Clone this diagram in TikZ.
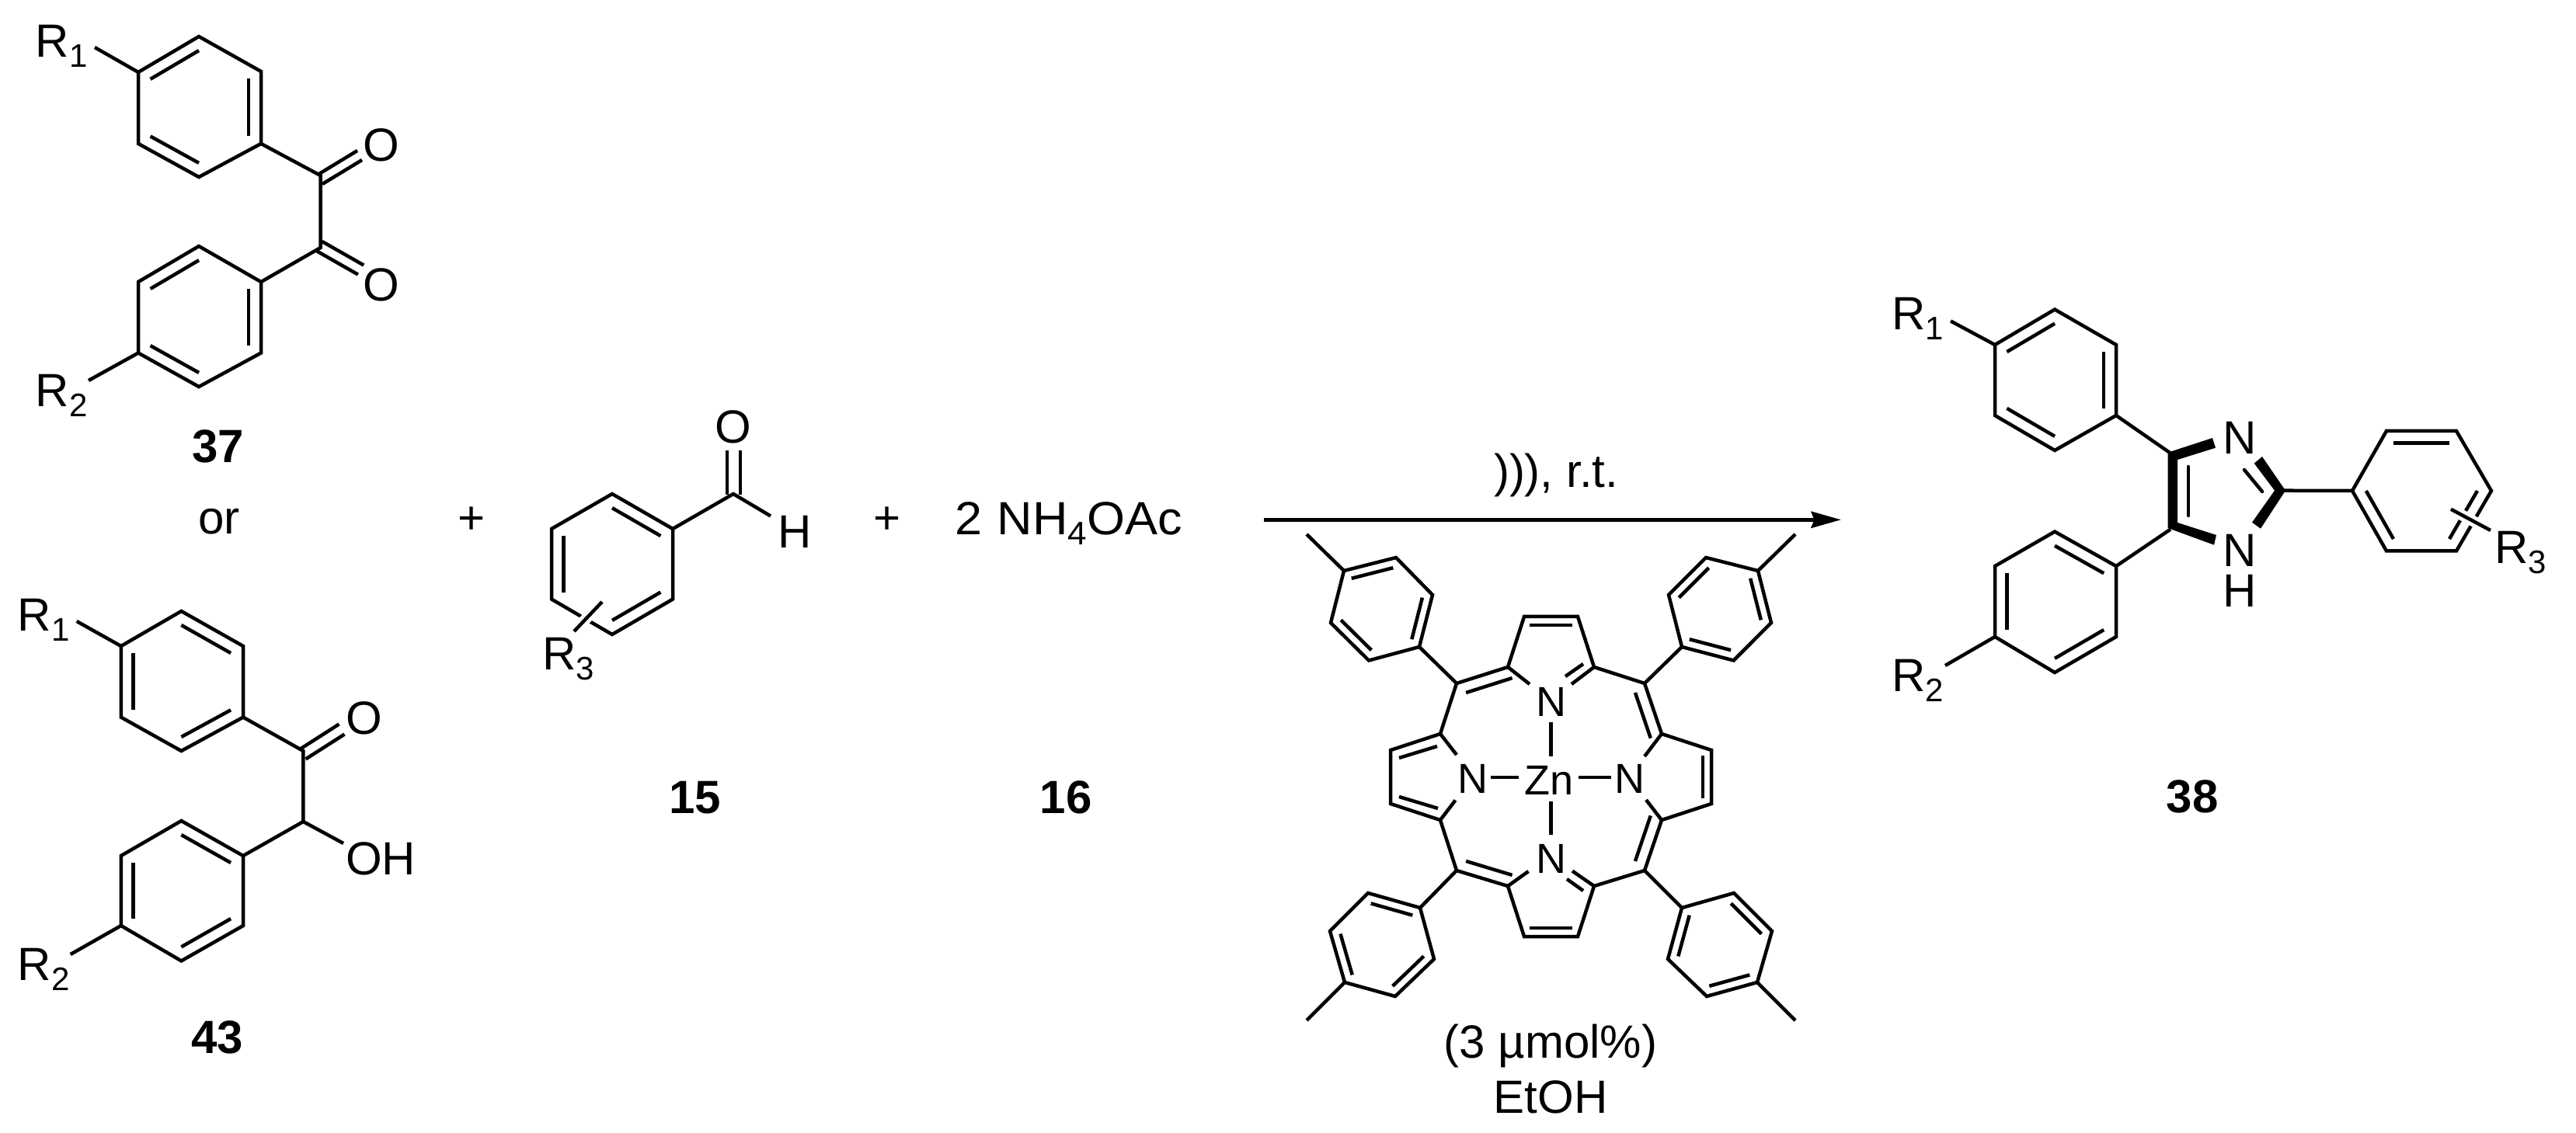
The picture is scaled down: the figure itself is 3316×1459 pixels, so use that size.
\documentclass[tikz,border=0pt]{standalone}
\usepackage{fontspec}
\usepackage{graphicx}
\setmainfont{Liberation Sans}
\usetikzlibrary{calc,arrows.meta}
\newcommand{\Sb}[1]{\raisebox{-6.5pt}{\fontsize{21}{21}\selectfont #1}}
\newcommand{\Rx}[1]{R\Sb{#1}}
% ring: prefix, six vertices in order; centre is prefix0
\newcommand{\Ring}[7]{%
  \coordinate (#1a) at (#2); \coordinate (#1b) at (#3); \coordinate (#1c) at (#4);
  \coordinate (#1d) at (#5); \coordinate (#1e) at (#6); \coordinate (#1f) at (#7);
  \coordinate (#10) at ($(#1a)!.5!(#1d)$);
  \draw[bond] (#1a)--(#1b)--(#1c)--(#1d)--(#1e)--(#1f)--cycle;}
\newcommand{\Db}[4][0.2]{\draw[bond] ($(#2)!#1!(#4)$) -- ($(#3)!#1!(#4)$);}
\newcommand{\DbS}[4]{%
  \draw[bond] ($(#1)+(#3,#4)$) -- ($(#2)+(#3,#4)$);
  \draw[bond] ($(#1)-(#3,#4)$) -- ($(#2)-(#3,#4)$);}
\tikzset{
  bond/.style={line width=2.25pt,line join=miter},
  halo/.style={preaction={draw,white,line width=7pt},line width=2.25pt},
  lab/.style={inner sep=0pt,outer sep=0pt,anchor=base,font=\fontsize{30}{30}\selectfont},
  labw/.style={lab,anchor=base west},
  atom/.style={lab,font=\fontsize{27}{27}\selectfont},
  num/.style={lab,font=\fontsize{30}{30}\selectfont\bfseries},
  rxn/.style={line width=2.5pt,-{Stealth[length=19.25pt,width=10.5pt,inset=2pt]}},
}
\begin{document}
\begin{tikzpicture}[x=0.5pt,y=-0.5pt]
\useasboundingbox (0,0) rectangle (3316,1459);

%% ---------- 37 ----------
\Ring{A}{256,47}{336,92}{336,185}{256,228}{178,185}{178,93}
\Db{Af}{Aa}{A0}\Db{Ab}{Ac}{A0}\Db{Ae}{Ad}{A0}
\Ring{B}{256,317}{336,363}{336,454.5}{256,498}{178,454.5}{178,363}
\Db{Bf}{Ba}{B0}\Db{Bb}{Bc}{B0}\Db{Be}{Bd}{B0}
\coordinate (c1) at (412.5,226); \coordinate (c2) at (412.5,319);
\coordinate (o1e) at (463,200); \coordinate (o2e) at (464.5,347.5);
\coordinate (c1m) at (412,231); \coordinate (c2m) at (411,317);
\coordinate (r1e) at (122,61); \coordinate (r2e) at (114,490);
\draw[bond] (Ac)--(c1)--(c2)--(Bb);
\DbS{c1m}{o1e}{3}{6}
\DbS{c2m}{o2e}{3.7}{-6}
\draw[bond] (Af)--(r1e);
\draw[bond] (Be)--(r2e);
\node[lab] (o1) at (490.6,208) {O};
\node[lab] (o2) at (490.6,388) {O};
\node[labw] (r1) at (46,73.5) {\Rx{1}};
\node[labw] (r2) at (46,523.5) {\Rx{2}};
\node[num] (n37) at (280.5,596) {37};
\node[lab] (or) at (282,688) {or};

%% ---------- 43 ----------
\Ring{C}{233.4,787}{313,832}{313,923.6}{233.4,967}{155.8,923.6}{155.8,832}
\Db{Ca}{Cb}{C0}\Db{Cf}{Ce}{C0}\Db{Cd}{Cc}{C0}
\Ring{D}{233.4,1057}{313,1102}{313,1192}{233.4,1237.4}{155.8,1192}{155.8,1102}
\Db{Da}{Db}{D0}\Db{Df}{De}{D0}\Db{Dd}{Dc}{D0}
\coordinate (c3) at (390.4,967); \coordinate (c4) at (390.4,1058);
\coordinate (c3m) at (390,971); \coordinate (o3e) at (440,939);
\coordinate (ohe) at (442,1086);
\coordinate (r3e) at (98.7,800); \coordinate (r4e) at (90.7,1229);
\draw[bond] (Cc)--(c3)--(c4)--(Db);
\DbS{c3m}{o3e}{3.5}{6.5}
\draw[bond] (c4)--(ohe);
\draw[bond] (Cf)--(r3e);
\draw[bond] (De)--(r4e);
\node[lab] (o3) at (468.8,945.5) {O};
\node[labw] (oh) at (445,1126) {OH};
\node[labw] (r3) at (23,813) {\Rx{1}};
\node[labw] (r4) at (23,1262) {\Rx{2}};
\node[num] (n43) at (280,1356) {43};

\node[lab] (p1) at (607,688) {+};

%% ---------- 15 ----------
\Ring{E}{788,636}{866,681}{866,771.6}{788,817}{710,771.6}{710,681}
\Db{Ea}{Eb}{E0}\Db{Ef}{Ee}{E0}\Db{Ec}{Ed}{E0}
\coordinate (c5) at (944,636); \coordinate (c5m) at (944.5,637); \coordinate (o5e) at (944.5,580);
\coordinate (h5e) at (992,664.5);
\coordinate (r5a) at (775,775); \coordinate (r5b) at (739,813);
\draw[bond] (Eb)--(c5)--(h5e);
\DbS{c5m}{o5e}{8.5}{0}
\draw[halo] (r5a)--(r5b);
\node[lab] (o5) at (944,571) {O};
\node[lab] (h5) at (1023,706) {H};
\node[labw] (r5) at (698,863) {\Rx{3}};
\node[num] (n15) at (895,1047.5) {15};

\node[lab] (p2) at (1142,688) {+};
\node[labw] (am) at (1229,689) {\scalebox{1.05}[1]{2 \kern1pt NH\Sb{4}OAc}};
\node[num] (n16) at (1372,1047.5) {16};

%% ---------- arrow ----------
\coordinate (ars) at (1627,669.3); \coordinate (are) at (2370,669.3);
\draw[rxn] (ars)--(are);
\node[lab] (us) at (2003,628) {))), r.t.};

%% ---------- catalyst ----------
\coordinate (mc) at (1996.5,1000);
% tolyl rings
\Ring{F}{1730,735}{1797,718}{1844,766}{1827,833}{1762,850.5}{1713,802}
\Db{Fa}{Fb}{F0}\Db{Fc}{Fd}{F0}\Db{Fe}{Ff}{F0}
\Ring{G}{2263,735}{2280,802}{2231.6,850.5}{2165,833}{2148,766}{2196,718}
\Db{Ga}{Gb}{G0}\Db{Gc}{Gd}{G0}\Db{Ge}{Gf}{G0}
\Ring{H}{1731,1265}{1796,1283}{1846,1235}{1828,1169}{1761,1150}{1712,1199}
\Db{Hb}{Hc}{H0}\Db{Hd}{He}{H0}\Db{Hf}{Ha}{H0}
\Ring{I}{2262,1265}{2281,1199}{2232,1150}{2165,1169}{2147,1235}{2197,1283}
\Db{Ib}{Ic}{I0}\Db{Id}{Ie}{I0}\Db{If}{Ia}{I0}
\coordinate (mF) at (1682,688); \coordinate (mG) at (2311,688);
\coordinate (mH) at (1682,1314); \coordinate (mI) at (2311,1314);
\draw[bond] (Fa)--(mF); \draw[bond] (Ga)--(mG);
\draw[bond] (Ha)--(mH); \draw[bond] (Ia)--(mI);
% meso carbons
\coordinate (mTL) at (1875,880); \coordinate (mTR) at (2117,880);
\coordinate (mBL) at (1875,1121); \coordinate (mBR) at (2117,1121);
\draw[bond] (Fd)--(mTL); \draw[bond] (Gd)--(mTR);
\draw[bond] (Hd)--(mBL); \draw[bond] (Id)--(mBR);
% pyrrole carbons
\coordinate (ta1) at (1941,859); \coordinate (tb1) at (1962,794);
\coordinate (tb2) at (2031,794); \coordinate (ta2) at (2052,859);
\coordinate (la1) at (1854,945); \coordinate (lb1) at (1790,966);
\coordinate (lb2) at (1790,1035); \coordinate (la2) at (1854,1056);
\coordinate (ra1) at (2139,945); \coordinate (rb1) at (2203,966);
\coordinate (rb2) at (2203,1035); \coordinate (ra2) at (2139,1056);
\coordinate (ba1) at (1941,1141); \coordinate (bb1) at (1962,1206);
\coordinate (bb2) at (2031,1206); \coordinate (ba2) at (2052,1141);
\coordinate (tc) at (1996.5,850); \coordinate (bc) at (1996.5,1150);
\coordinate (lc) at (1846,1001); \coordinate (rc) at (2147,1001);
% outline
\draw[bond] (mTL)--(ta1)--(tb1)--(tb2)--(ta2)--(mTR)--(ra1)--(rb1)--(rb2)--(ra2)--(mBR)--(ba2)--(bb2)--(bb1)--(ba1)--(mBL)--(la2)--(lb2)--(lb1)--(la1)--cycle;
% inner double bonds
\Db[0.1]{mTL}{ta1}{mc}
\Db[0.1]{mTR}{ra1}{mc}
\Db[0.1]{mBR}{ra2}{mc}
\Db[0.1]{mBL}{ba1}{mc}
\Db{tb1}{tb2}{tc}
\Db{bb1}{bb2}{bc}
\Db[0.2]{rb1}{rb2}{rc}
\coordinate (li1) at (1801,976); \coordinate (li2) at (1850,961);
\coordinate (li3) at (1801,1026); \coordinate (li4) at (1851,1041);
\draw[bond] (li1)--(li2); \draw[bond] (li3)--(li4);
% bonds to N and inner C=N
\coordinate (s1) at (1969,881); \coordinate (s2) at (2023,881);
\coordinate (s3) at (1875,972); \coordinate (s4) at (1873.5,1030.5);
\coordinate (s5) at (2117,974); \coordinate (s6) at (2119,1030);
\coordinate (s7) at (1967.5,1122); \coordinate (s8) at (2024,1121.6);
\draw[bond] (ta1)--(s1); \draw[bond] (ta2)--(s2);
\draw[bond] (la1)--(s3); \draw[bond] (la2)--(s4);
\draw[bond] (ra1)--(s5); \draw[bond] (ra2)--(s6);
\draw[bond] (ba1)--(s7); \draw[bond] (ba2)--(s8);
\coordinate (ti1) at (2015,871); \coordinate (ti2) at (2038,855);
\coordinate (bi1) at (2017,1132); \coordinate (bi2) at (2038,1147);
\draw[bond] (ti1)--(ti2); \draw[bond] (bi1)--(bi2);
% metal
\node[atom] (nt) at (1996.5,922) {N};
\node[atom] (nb) at (1996.5,1124) {N};
\node[atom] (nl) at (1895.5,1022) {N};
\node[atom] (nr) at (2098,1022) {N};
\node[atom] (zn) at (1994,1023) {Zn};
\coordinate (z1) at (1996.5,930); \coordinate (z2) at (1996.5,974);
\coordinate (z3) at (1996.5,1032); \coordinate (z4) at (1996.5,1075);
\coordinate (z5) at (1918.5,1001); \coordinate (z6) at (1955,1001);
\coordinate (z7) at (2032,1001); \coordinate (z8) at (2074,1001);
\draw[bond] (z1)--(z2); \draw[bond] (z3)--(z4);
\draw[bond] (z5)--(z6); \draw[bond] (z7)--(z8);
\node[lab] (pc) at (1996,1362) {(3 µmol\%)};
\node[lab] (et) at (1996,1433) {EtOH};

%% ---------- 38 ----------
\Ring{J}{2645,398.5}{2724,444}{2724,535}{2645,580}{2568,535}{2568,444}
\Db{Jf}{Ja}{J0}\Db{Jb}{Jc}{J0}\Db{Je}{Jd}{J0}
\Ring{K}{2645,684.6}{2724,729}{2724,820}{2645,866}{2568,820}{2568,729}
\Db{Ka}{Kb}{K0}\Db{Kf}{Ke}{K0}\Db{Kd}{Kc}{K0}
\Ring{L}{3072,555}{3162,555}{3207,632}{3162,709.5}{3072,709.5}{3028,632}
\Db{La}{Lb}{L0}\Db{Lc}{Ld}{L0}\Db{Le}{Lf}{L0}
\coordinate (c4i) at (2794,583.6); \coordinate (c5i) at (2794,681.6);
\coordinate (c2i) at (2936,631.7);
\draw[bond] (Jc)--(c4i);
\draw[bond] (Kb)--(c5i);
\draw[bond] (c2i)--(Lf);
% bold bonds of the imidazole
\fill (2790.7,582.7)--(2848,564)--(2852,576.7)--(2803,592)--(2803,673)--(2853,689)--(2850,701.7)--(2790.7,680)--cycle;
\fill (2912,588)--(2942,631.7)--(2910,680.7)--(2899,672.7)--(2928,631.7)--(2901.7,596.7)--cycle;
\coordinate (ii1) at (2817,601); \coordinate (ii2) at (2817,664);
\coordinate (ii3) at (2889,605); \coordinate (ii4) at (2912,633);
\draw[bond,line cap=round] (ii1)--(ii2); \draw[bond,line cap=round] (ii3)--(ii4);
\coordinate (r6e) at (2511,413.4); \coordinate (r7e) at (2504,857);
\draw[bond] (Jf)--(r6e);
\draw[bond] (Ke)--(r7e);
\coordinate (r8a) at (3155,655.7); \coordinate (r8b) at (3206,683);
\draw[halo] (r8a)--(r8b);
\node[lab] (n1) at (2883,584.6) {N};
\node[lab] (n3) at (2883,730) {N};
\node[lab] (h3) at (2883,782) {H};
\node[labw] (r6) at (2435,424.4) {\Rx{1}};
\node[labw] (r7) at (2435,890.6) {\Rx{2}};
\node[labw] (r8) at (3211,726) {\Rx{3}};
\node[num] (n38) at (2822,1046) {38};
\end{tikzpicture}
\end{document}
